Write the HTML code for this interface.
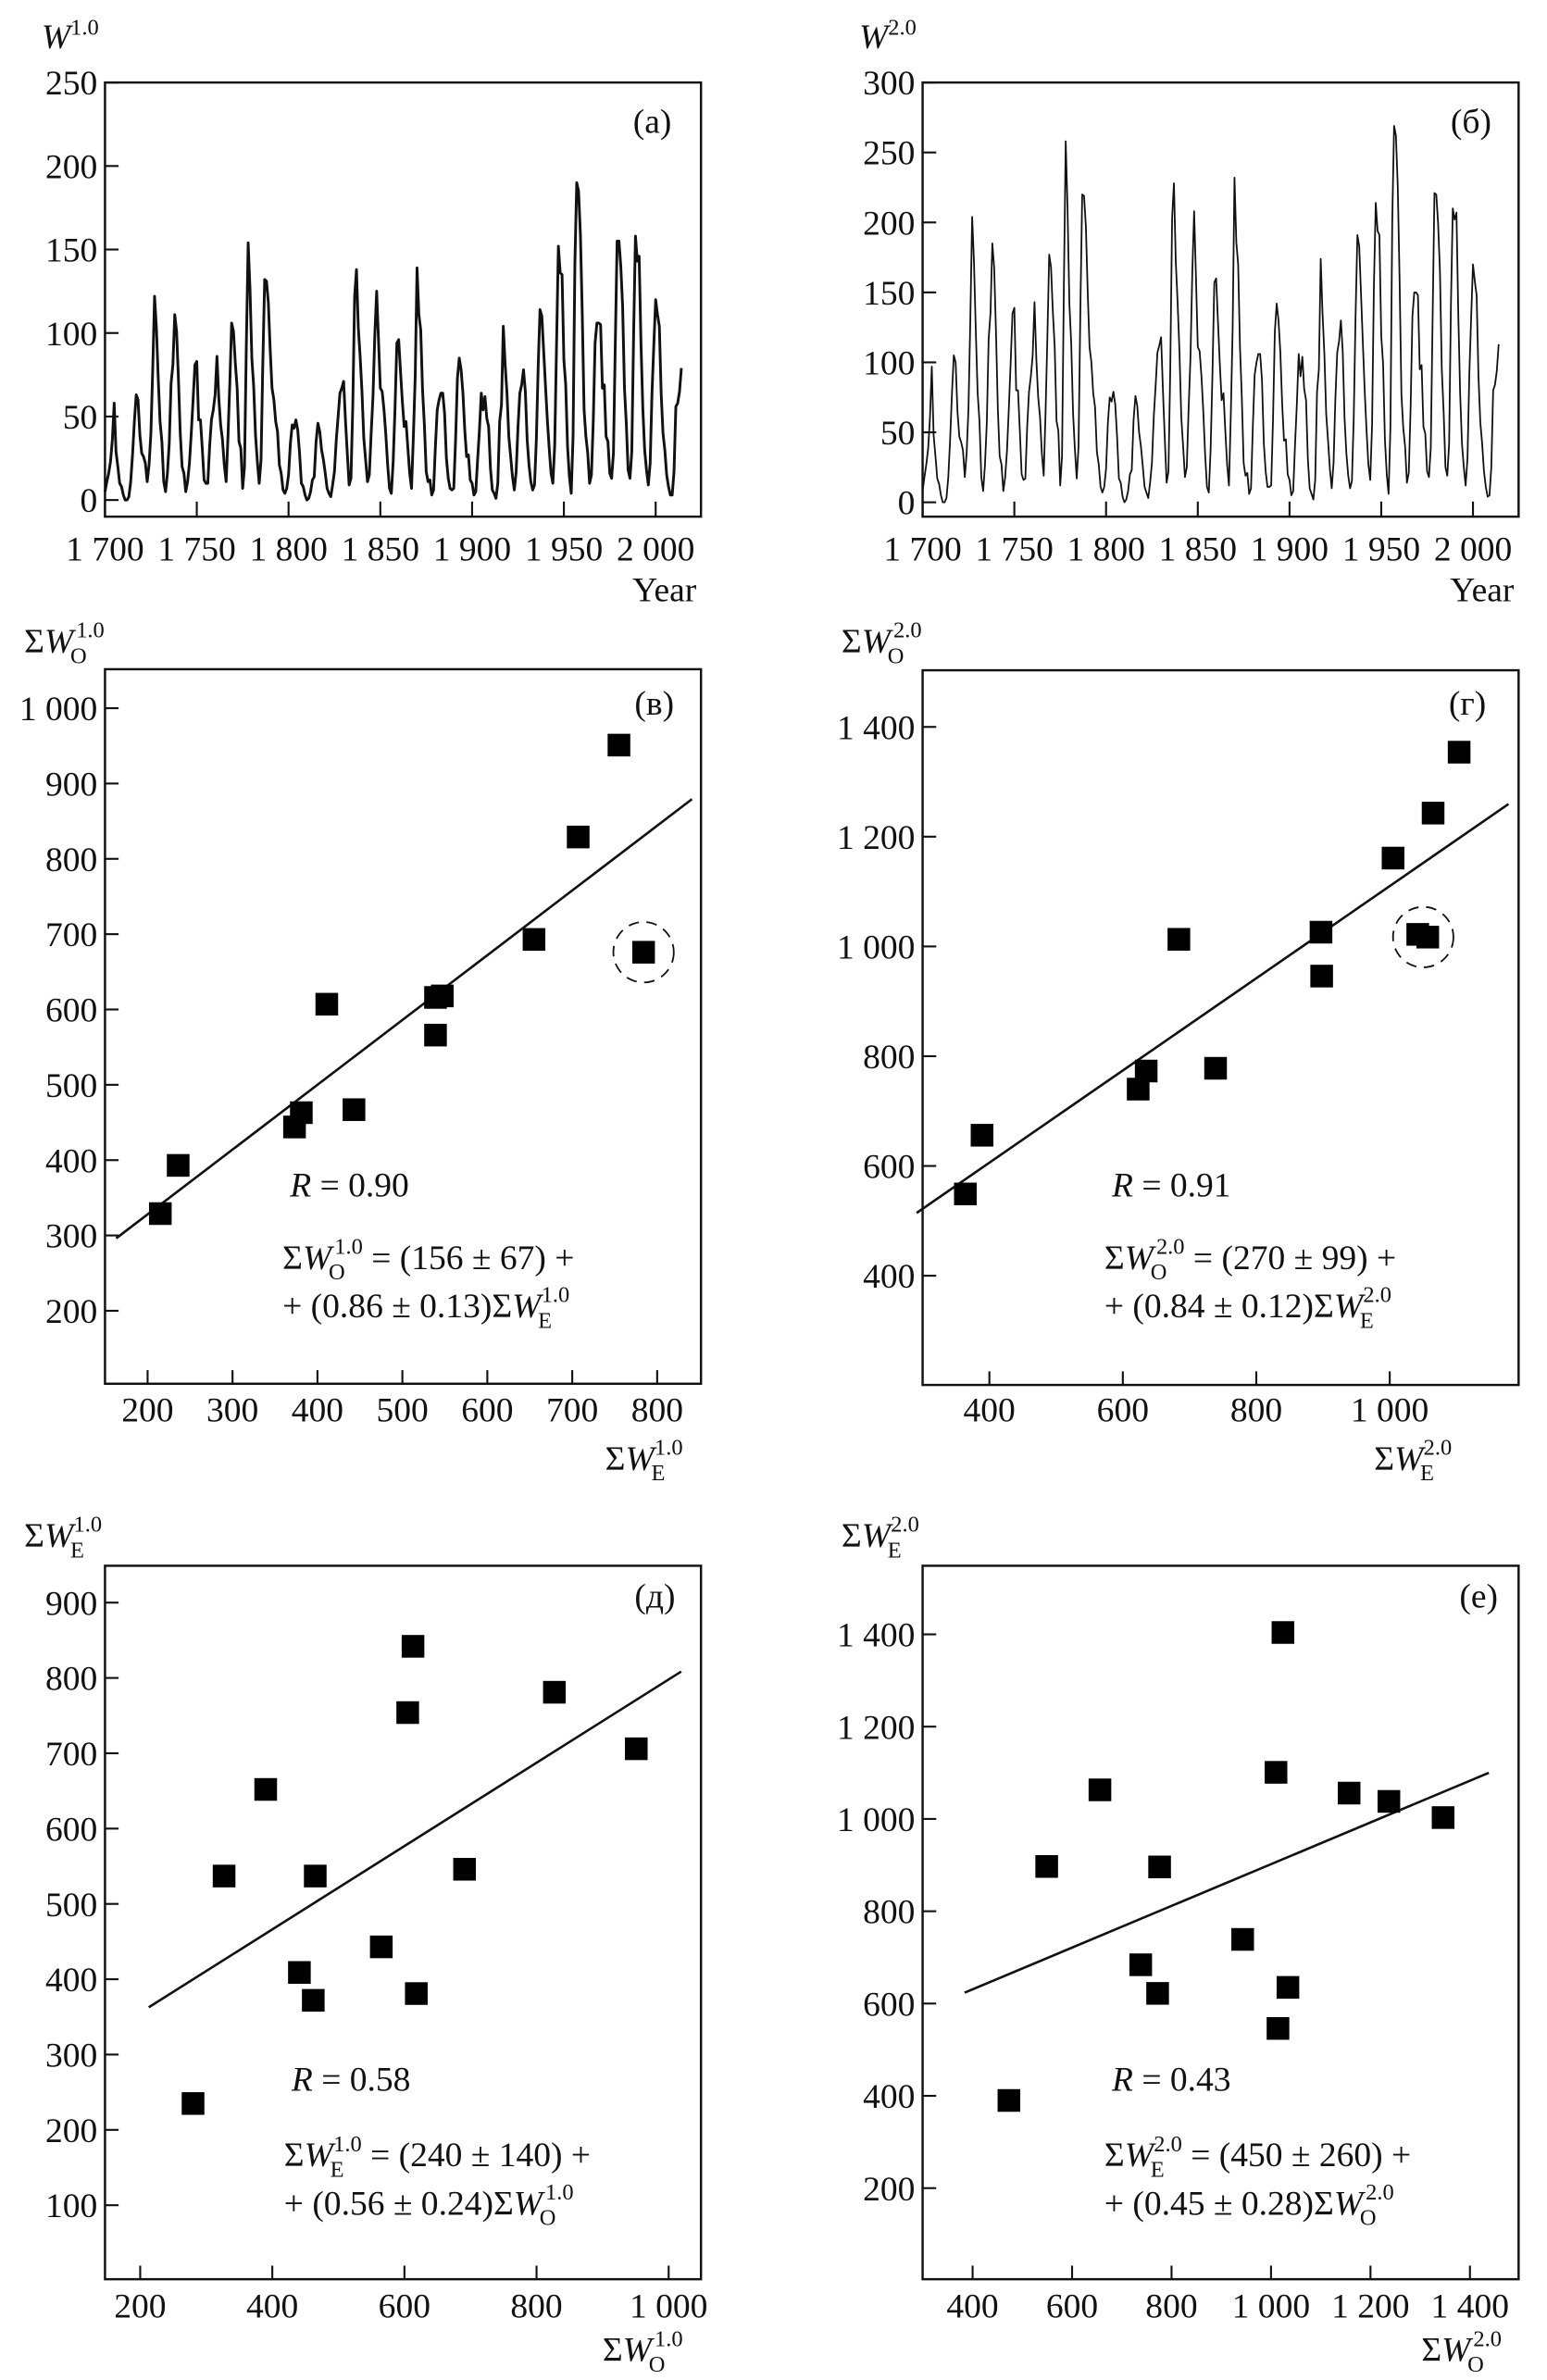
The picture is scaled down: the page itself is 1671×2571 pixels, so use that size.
<!DOCTYPE html>
<html><head><meta charset="utf-8">
<style>
html,body{margin:0;padding:0;background:#fff;}
svg{display:block;}
svg text{font-family:"Liberation Serif","DejaVu Serif",serif;fill:#111;}
</style></head>
<body>
<svg id="fig" xmlns="http://www.w3.org/2000/svg" width="1671" height="2571" viewBox="0 0 1024 1575.5" font-family="Liberation Serif, serif">
<rect x="0" y="0" width="1024" height="1575.5" fill="#fff"/>
</svg>
<script>
// ---------- DATA ----------
const startYear = 1700;
const w1Values = [5,11,16,23,36,58,29,20,10,8,
3,0,0,2,11,27,47,63,60,39,
28,26,22,11,21,40,78,122,103,73,
47,35,11,5,16,34,70,81,111,101,
73,40,20,16,5,11,22,40,60,81,
83,48,48,31,12,10,10,32,48,54,
63,86,61,45,36,21,11,38,70,106,
101,82,67,35,31,7,20,93,154,126,
85,68,39,23,10,24,83,132,131,118,
90,67,60,47,41,21,16,6,4,7,
15,34,45,43,48,42,28,10,8,3,
0,1,5,12,14,35,46,41,30,24,
16,7,4,2,9,17,36,50,64,67,
71,48,28,9,13,57,122,138,103,86,
65,37,24,11,15,40,62,99,125,96,
67,65,54,39,21,7,4,23,55,94,
96,77,59,44,47,31,16,7,38,74,
139,111,102,66,45,17,11,12,3,6,
32,54,60,64,64,52,25,13,7,6,
7,36,73,85,78,64,42,26,27,12,
10,3,5,24,42,64,54,62,49,44,
19,6,4,1,10,47,57,104,81,64,
38,26,14,6,17,44,64,69,78,65,
36,21,11,6,9,36,80,114,110,89,
68,48,31,16,10,33,93,152,136,135,
84,69,32,14,4,38,142,190,185,159,
112,54,38,28,10,15,47,94,106,106,
105,67,69,38,35,16,13,28,93,155,
155,140,116,67,46,18,13,29,100,158,
143,146,94,55,30,18,9,22,64,93,
120,111,104,64,40,30,15,8,3,3,
17,56,58,65,79];
const w2Values = [8,18,27,38,60,97,48,33,17,13,
5,0,0,3,18,45,78,105,100,65,
47,43,37,18,35,67,130,204,172,122,
78,58,18,8,27,57,117,135,185,168,
122,67,33,27,8,18,37,67,100,135,
139,80,80,51,20,16,17,54,79,90,
105,143,102,75,61,35,19,63,117,177,
168,136,111,58,51,12,33,154,258,210,
142,114,64,38,17,40,138,220,219,197,
150,111,100,78,68,36,27,11,7,11,
24,57,75,72,79,70,47,17,14,4,
0,2,8,20,23,59,76,69,50,40,
26,11,7,3,14,28,61,83,107,112,
118,80,46,14,22,95,203,228,172,143,
108,61,40,18,25,67,103,164,208,161,
111,108,90,65,34,11,7,38,92,157,
160,129,99,73,78,51,27,12,63,124,
232,186,170,111,75,28,19,21,6,10,
54,91,100,106,106,87,42,22,11,11,
12,59,122,142,130,107,70,44,45,20,
16,5,8,41,70,106,90,104,81,73,
31,10,6,2,16,79,95,174,135,106,
63,44,24,10,28,74,107,115,130,108,
60,35,19,10,15,60,133,191,183,148,
113,79,51,27,16,55,155,214,194,191,
119,99,45,20,6,54,201,269,262,226,
159,77,53,40,14,21,67,133,150,150,
148,95,98,54,49,22,18,39,131,221,
220,199,165,95,65,25,19,42,142,210,
202,207,134,78,42,25,12,31,91,132,
170,158,148,90,57,42,22,11,4,5,
25,80,84,94,113];
const yearTicks = [1700,1750,1800,1850,1900,1950,2000];
const yearTickLabels = ["1 700","1 750","1 800","1 850","1 900","1 950","2 000"];
const w1Ticks = [0,50,100,150,200,250];
const w2Ticks = [0,50,100,150,200,250,300];

// panel (в)
const vX = [215,236,373,381,411,443,539,547,539,655,707,755,784];
const vY = [329,393,444,463,607,467,616,618,566,693,829,951,676];
// panel (г)
const gX = [364,389,623,635,684,739,897,898,1005,1042,1057,1065,1104];
const gY = [549,656,740,773,1013,778,1026,946,1161,1022,1017,1243,1354];
// panel (д)
const dX = [280,327,390,441,462,465,565,605,613,618,691,827,951];
const dY = [235,537,652,409,372,537,443,754,842,381,546,781,706];
// panel (е)
const eX = [473,549,656,738,772,776,943,1010,1014,1024,1034,1157,1237,1346];
const eY = [390,897,1063,684,622,896,739,1101,546,1404,635,1056,1038,1003];
// fits [intercept, slope]
const vFit = [156,0.86];
const gFit = [270,0.84];
const dFit = [245,0.553];
const eFit = [450,0.452];
const vTicksX = [200,300,400,500,600,700,800];
const vTicksY = [200,300,400,500,600,700,800,900,1000];
const gTicksX = [400,600,800,1000];
const gTicksY = [400,600,800,1000,1200,1400];
const dTicksX = [200,400,600,800,1000];
const dTicksY = [100,200,300,400,500,600,700,800,900];
const eTicksX = [400,600,800,1000,1200,1400];
const eTicksY = [200,400,600,800,1000,1200,1400];

// ---------- DRAWING ----------
const NS = "http://www.w3.org/2000/svg";
const svg = document.getElementById('fig');
const FS = 23;
function mk(tag, attrs, parent, name) {
  const e = document.createElementNS(NS, tag);
  for (const k in attrs) e.setAttribute(k, attrs[k]);
  
  
  (parent || svg).appendChild(e);
  return e;
}
function fmt(v){ const s=String(v); return s.length>3 ? s.slice(0,s.length-3)+" "+s.slice(-3) : s; }
function lin(v0,p0,v1,p1){ return v => p0 + (v - v0) * (p1 - p0) / (v1 - v0); }

function txt(x,y,str,parent,name,opts){
  const t = mk('text', Object.assign({x:x,y:y,'font-size':FS,'font-family':'Liberation Serif, serif'}, opts||{}), parent, name);
  t.textContent = str;
  return t;
}
function sigma(parent, x, y, sub, sup, prefix, suffix, anchor, name) {
  const t = mk('text', {x:x, y:y, 'font-size':FS, 'font-family':'Liberation Serif, serif', 'text-anchor':anchor||'start'}, parent, name);
  if (prefix) { const p = document.createElementNS(NS,'tspan'); p.textContent = prefix; t.appendChild(p); }
  const s = document.createElementNS(NS,'tspan'); s.textContent = 'Σ'; t.appendChild(s);
  const w = document.createElementNS(NS,'tspan'); w.setAttribute('font-style','italic'); w.textContent='W'; t.appendChild(w);
  const sb = document.createElementNS(NS,'tspan'); sb.setAttribute('font-size','15'); sb.setAttribute('dx','-2'); sb.setAttribute('dy','7'); sb.textContent=sub; t.appendChild(sb);
  const sp = document.createElementNS(NS,'tspan'); sp.setAttribute('font-size','15'); sp.setAttribute('dx','-7'); sp.setAttribute('dy','-17'); sp.textContent=sup; t.appendChild(sp);
  if (suffix) { const f = document.createElementNS(NS,'tspan'); f.setAttribute('dy','10'); f.textContent = suffix; t.appendChild(f); }
  return t;
}

function frame(g, box, name){
  mk('rect',{x:box[0],y:box[1],width:box[2]-box[0],height:box[3]-box[1],fill:'none',stroke:'#111','stroke-width':1.5},g,name);
}

function seriesPanel(id, box, xMap, yMap, vals, yTicks, strokeW, letter, sup) {
  const g = mk('g',{},svg,'panel-'+id);
  frame(g, box, 'plot-frame');
  const X = lin(xMap[0],xMap[1],xMap[2],xMap[3]);
  const Y = lin(yMap[0],yMap[1],yMap[2],yMap[3]);
  yTicks.forEach(v=>{
    mk('line',{x1:box[0],x2:box[0]+9,y1:Y(v),y2:Y(v),stroke:'#111','stroke-width':1.3},g,'y-tick');
    txt(box[0]-5,Y(v)+8,String(v),g,'y-tick-label',{'text-anchor':'end'});
  });
  yearTicks.forEach((yr,i)=>{
    mk('line',{x1:X(yr),x2:X(yr),y1:box[3],y2:box[3]-10,stroke:'#111','stroke-width':1.3},g,'x-tick');
    txt(X(yr),371,yearTickLabels[i],g,'x-tick-label',{'text-anchor':'middle'});
  });
  let d='';
  vals.forEach((v,i)=>{ d += (i?'L':'M') + X(startYear+i).toFixed(2)+','+Y(v).toFixed(2); });
  mk('path',{d:d,fill:'none',stroke:'#111','stroke-width':strokeW,'stroke-linejoin':'round'},g,'sunspot-line');
  txt(box[2]-45,88,letter,g,'panel-letter');
  txt(box[2]-3,398,'Year',g,'x-axis-title',{'text-anchor':'end'});
  const yl = mk('text',{x:box[0]-42,y:32,'font-size':FS,'font-family':'Liberation Serif, serif'},g,'y-axis-title');
  const w = document.createElementNS(NS,'tspan'); w.setAttribute('font-style','italic'); w.textContent='W'; yl.appendChild(w);
  const s = document.createElementNS(NS,'tspan'); s.setAttribute('font-size','15'); s.setAttribute('dy','-9'); s.textContent=sup; yl.appendChild(s);
}

seriesPanel('a',[69.5,54.6,464,342],[1700,69.5,2000,434],[0,331,250,54.6],w1Values,w1Ticks,1.8,'(a)','1.0');
seriesPanel('b',[610.7,54.6,1005.2,342],[1700,610.7,2000,975],[0,332.5,300,54.6],w2Values,w2Ticks,1.1,'(б)','2.0');

function scatterPanel(cfg){
  const g = mk('g',{},svg,'panel-'+cfg.id);
  const box = cfg.box;
  frame(g, box, 'plot-frame');
  const X = lin(cfg.xMap[0],cfg.xMap[1],cfg.xMap[2],cfg.xMap[3]);
  const Y = lin(cfg.yMap[0],cfg.yMap[1],cfg.yMap[2],cfg.yMap[3]);
  cfg.yTicks.forEach(v=>{
    mk('line',{x1:box[0],x2:box[0]+9,y1:Y(v),y2:Y(v),stroke:'#111','stroke-width':1.3},g,'y-tick');
    txt(box[0]-5,Y(v)+8,fmt(v),g,'y-tick-label',{'text-anchor':'end'});
  });
  cfg.xTicks.forEach(v=>{
    mk('line',{x1:X(v),x2:X(v),y1:box[3],y2:box[3]-9,stroke:'#111','stroke-width':1.3},g,'x-tick');
    txt(X(v),cfg.xLabY,fmt(v),g,'x-tick-label',{'text-anchor':'middle'});
  });
  const a = cfg.fit[0], b = cfg.fit[1];
  mk('line',{x1:X(cfg.fitRange[0]),y1:Y(a+b*cfg.fitRange[0]),x2:X(cfg.fitRange[1]),y2:Y(a+b*cfg.fitRange[1]),stroke:'#111','stroke-width':1.6},g,'regression-line');
  cfg.xs.forEach((xv,i)=>{
    mk('rect',{x:X(xv)-7.5,y:Y(cfg.ys[i])-7.5,width:15,height:15,fill:'#000'},g,'data-point');
  });
  if (cfg.circle !== undefined) {
    const cx = X(cfg.xs[cfg.circle]) + (cfg.circleDx||0), cy = Y(cfg.ys[cfg.circle]);
    mk('ellipse',{cx:cx,cy:cy,rx:20,ry:20,fill:'none',stroke:'#111','stroke-width':1.1,'stroke-dasharray':'7,5'},g,'outlier-circle');
  }
  txt(cfg.letterX,cfg.letterY,cfg.letter,g,'panel-letter');
  const r = mk('text',{x:cfg.textX,y:cfg.rY,'font-size':FS,'font-family':'Liberation Serif, serif'},g,'correlation-label');
  const ri = document.createElementNS(NS,'tspan'); ri.setAttribute('font-style','italic'); ri.textContent='R'; r.appendChild(ri);
  const rv = document.createElementNS(NS,'tspan'); rv.textContent=' = '+cfg.r; r.appendChild(rv);
  sigma(g, cfg.textX-5, cfg.eqY, cfg.eqSub1, cfg.sup, '', ' = '+cfg.eq1, 'start', 'equation-line-1');
  sigma(g, cfg.textX-5, cfg.eqY+32, cfg.eqSub2, cfg.sup, '+ '+cfg.eq2, '', 'start', 'equation-line-2');
  sigma(g, cfg.yTitleX, cfg.yTitleY, cfg.ySub, cfg.sup, '', '', 'start', 'y-axis-title');
  sigma(g, cfg.xTitleX, cfg.xTitleY, cfg.xSub, cfg.sup, '', '', 'end', 'x-axis-title');
}

scatterPanel({id:'v',box:[69.5,443,464,916],xMap:[200,97.7,800,435],yMap:[200,867.7,1000,468.8],
  xTicks:vTicksX,yTicks:vTicksY,xLabY:941,xs:vX,ys:vY,fit:vFit,fitRange:[163,841],circle:12,
  letter:'(в)',letterX:420,letterY:473,textX:192,rY:792,eqY:840,r:'0.90',
  eq1:'(156 ± 67) +',eq2:'(0.86 ± 0.13)',eqSub1:'O',eqSub2:'E',sup:'1.0',
  ySub:'O',yTitleX:16,yTitleY:432,xSub:'E',xTitleX:452,xTitleY:973});
scatterPanel({id:'g',box:[610.7,443.7,1005.2,916.8],xMap:[400,654.9,1000,919.9],yMap:[400,844.5,1400,481.2],
  xTicks:gTicksX,yTicks:gTicksY,xLabY:941,xs:gX,ys:gY,fit:gFit,fitRange:[291,1178],circle:10,circleDx:-3,
  letter:'(г)',letterX:959,letterY:473,textX:736,rY:792,eqY:840,r:'0.91',
  eq1:'(270 ± 99) +',eq2:'(0.84 ± 0.12)',eqSub1:'O',eqSub2:'E',sup:'2.0',
  ySub:'O',yTitleX:557,yTitleY:432,xSub:'E',xTitleX:961,xTitleY:973});
scatterPanel({id:'d',box:[69.5,1036.5,464,1508.8],xMap:[200,92.8,1000,442.6],yMap:[100,1459.8,900,1060.9],
  xTicks:dTicksX,yTicks:dTicksY,xLabY:1534,xs:dX,ys:dY,fit:dFit,fitRange:[213,1019],
  letter:'(д)',letterX:420,letterY:1064,textX:193,rY:1384,eqY:1434,r:'0.58',
  eq1:'(240 ± 140) +',eq2:'(0.56 ± 0.24)',eqSub1:'E',eqSub2:'O',sup:'1.0',
  ySub:'E',yTitleX:16,yTitleY:1024,xSub:'O',xTitleX:452,xTitleY:1563});
scatterPanel({id:'e',box:[610.7,1036.5,1005.2,1508.8],xMap:[400,643.8,1400,973],yMap:[200,1448.5,1400,1081.9],
  xTicks:eTicksX,yTicks:eTicksY,xLabY:1534,xs:eX,ys:eY,fit:eFit,fitRange:[384,1438],
  letter:'(е)',letterX:966,letterY:1064,textX:736,rY:1384,eqY:1434,r:'0.43',
  eq1:'(450 ± 260) +',eq2:'(0.45 ± 0.28)',eqSub1:'E',eqSub2:'O',sup:'2.0',
  ySub:'E',yTitleX:557,yTitleY:1024,xSub:'O',xTitleX:994,xTitleY:1563});
</script>
</body></html>
